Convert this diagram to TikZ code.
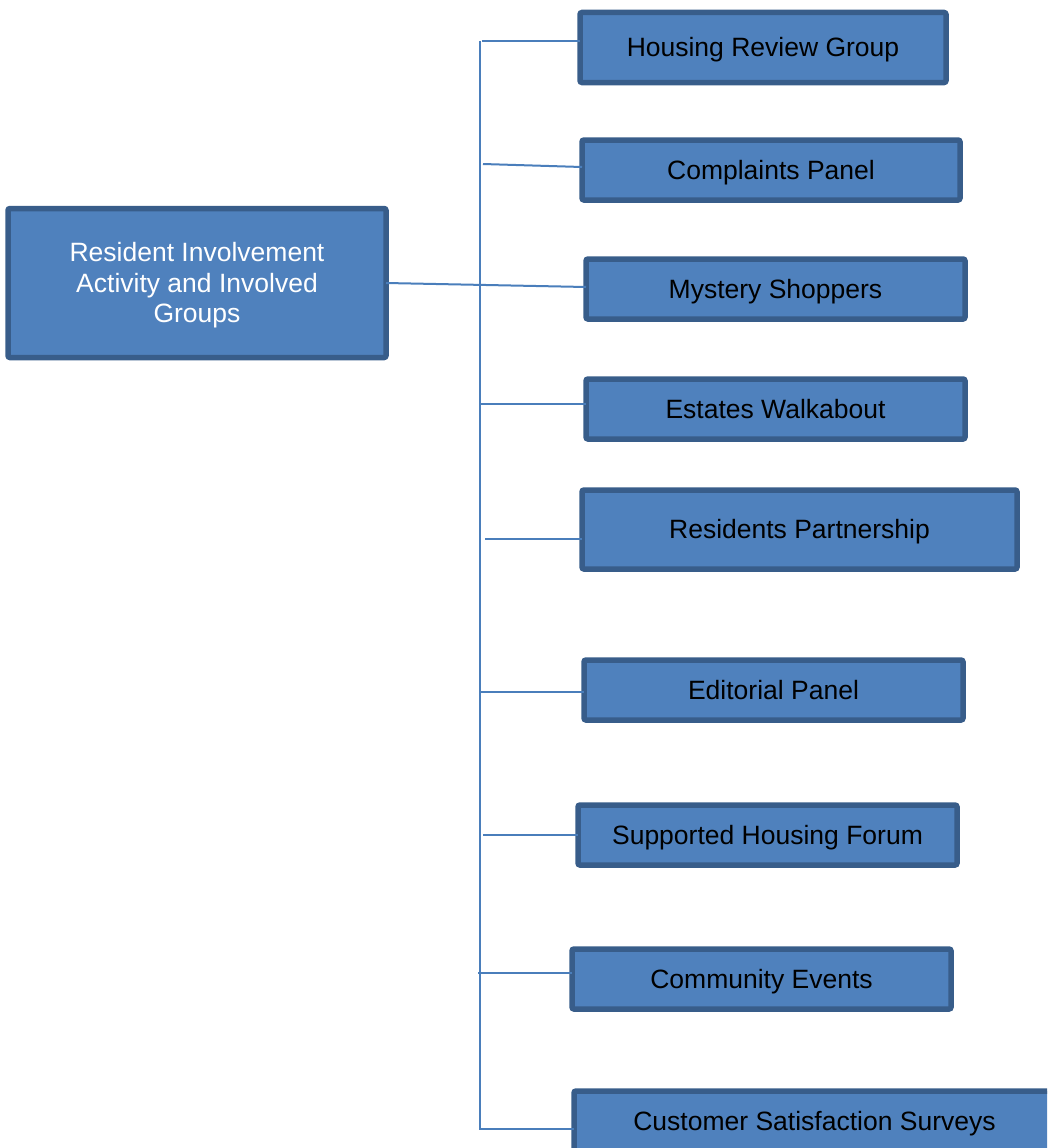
\documentclass[tikz,border=0pt]{standalone}
\usepackage{fontspec}
\setmainfont{Liberation Sans}
\definecolor{boxfill}{HTML}{4F81BD}
\definecolor{boxedge}{HTML}{385D8A}
\definecolor{linkcol}{HTML}{4A7EBB}
\begin{document}
\begin{tikzpicture}[x=1pt,y=1pt,
  box/.style={draw=boxedge, fill=boxfill, line width=5.5pt, rounded corners=2pt,
    inner sep=0pt, outer sep=0pt, text=black, text height=19pt, text depth=1pt,
    font=\fontsize{26.5}{30.5}\selectfont},
  mainbox/.style={box, text=white, align=center, text height=80pt, text depth=1pt},
  link/.style={draw=linkcol, line width=2pt}]
\useasboundingbox (0,0) rectangle (1047,-1148);
\clip (0,0) rectangle (1047,-1148);
% main box
\node[mainbox, minimum width=378, minimum height=149] (main) at (197,-283)
  {Resident Involvement\\Activity and Involved\\Groups};
% child boxes
\node[box, minimum width=366, minimum height=70] (hrg) at (763,-47.5) {Housing Review Group};
\node[box, minimum width=378, minimum height=60] (cp) at (771,-170) {Complaints Panel};
\node[box, minimum width=379, minimum height=60] (ms) at (775.5,-289) {Mystery Shoppers};
\node[box, minimum width=379, minimum height=60] (ew) at (775.5,-409) {Estates Walkabout};
\node[box, minimum width=435, minimum height=79] (rp) at (799.5,-529.5) {Residents Partnership};
\node[box, minimum width=379, minimum height=60] (ep) at (773.5,-690) {Editorial Panel};
\node[box, minimum width=379, minimum height=60] (shf) at (767.5,-835) {Supported Housing Forum};
\node[box, minimum width=379, minimum height=60] (ce) at (761.5,-979) {Community Events};
\node[box, minimum width=481, minimum height=60] (css) at (814.5,-1121) {Customer Satisfaction Surveys};
% spine
\coordinate (top) at (480,-41);
\coordinate (bot) at (480,-1129);
\draw[link] (top) -- (bot);
\coordinate (s1) at (482,-41);
\coordinate (s2) at (483,-164);
\coordinate (s4) at (481,-404);
\coordinate (s5) at (485,-539);
\coordinate (s6) at (481,-692);
\coordinate (s7) at (483,-835);
\coordinate (s8) at (478,-973);
\coordinate (s9) at (479,-1129);
\draw[link] (s1) -- (s1 -| hrg.west);
\draw[link] (s2) -- ([yshift=-3pt]s2 -| cp.west);
\draw[link] (main.east) -- ([yshift=-4pt]main.east -| ms.west);
\draw[link] (s4) -- (s4 -| ew.west);
\draw[link] (s5) -- (s5 -| rp.west);
\draw[link] (s6) -- (s6 -| ep.west);
\draw[link] (s7) -- (s7 -| shf.west);
\draw[link] (s8) -- (s8 -| ce.west);
\draw[link] (s9) -- (s9 -| css.west);
\end{tikzpicture}
\end{document}
